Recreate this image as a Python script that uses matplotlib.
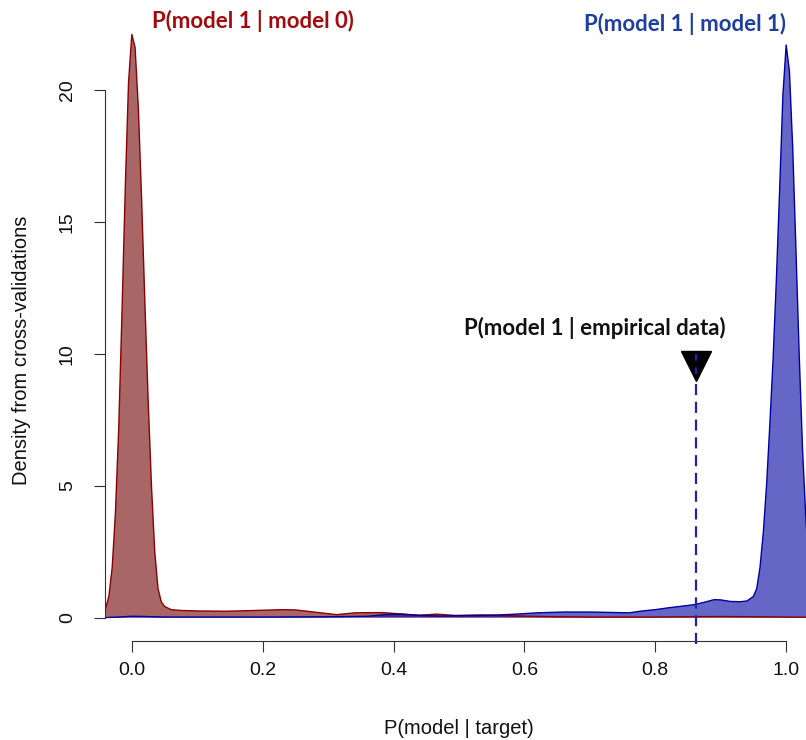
import numpy as np
import matplotlib
matplotlib.use("Agg")
import matplotlib.pyplot as plt

# density of P(model 1) when data simulated under model 0
red_x = [-0.041, -0.035, -0.03, -0.025, -0.02, -0.015, -0.01, -0.005, 0.0, 0.005,
         0.01, 0.015, 0.02, 0.025, 0.03, 0.035, 0.04, 0.045, 0.05, 0.06,
         0.075, 0.1, 0.145, 0.19, 0.23, 0.25, 0.285, 0.313, 0.341, 0.382,
         0.41, 0.439, 0.466, 0.494, 0.536, 0.564, 0.606, 0.65, 0.7, 0.8,
         0.9, 0.95, 1.0, 1.041]
red_y = [0.25, 0.82, 1.9, 4.0, 7.2, 11.6, 16.3, 20.3, 22.1, 21.6,
         19.3, 15.8, 11.9, 8.2, 5.0, 2.5, 1.1, 0.6, 0.42, 0.3,
         0.27, 0.25, 0.24, 0.27, 0.3, 0.29, 0.19, 0.11, 0.18, 0.19,
         0.14, 0.09, 0.13, 0.08, 0.1, 0.08, 0.05, 0.03, 0.02, 0.02,
         0.04, 0.03, 0.02, 0.01]

# density of P(model 1) when data simulated under model 1
blue_x = [-0.041, -0.02, 0.0, 0.02, 0.05, 0.1, 0.2, 0.3, 0.36, 0.39,
          0.41, 0.44, 0.47, 0.5, 0.54, 0.58, 0.62, 0.66, 0.7, 0.74,
          0.76, 0.78, 0.8, 0.82, 0.84, 0.86, 0.875, 0.89, 0.9, 0.915,
          0.93, 0.94, 0.95, 0.955, 0.96, 0.965, 0.97, 0.975, 0.98, 0.985,
          0.99, 0.995, 1.0, 1.005, 1.01, 1.015, 1.02, 1.025, 1.03, 1.035, 1.041]
blue_y = [0.0, 0.02, 0.05, 0.04, 0.02, 0.02, 0.02, 0.03, 0.05, 0.12,
          0.13, 0.08, 0.06, 0.07, 0.08, 0.12, 0.18, 0.21, 0.21, 0.19,
          0.18, 0.25, 0.3, 0.37, 0.43, 0.49, 0.58, 0.68, 0.67, 0.61,
          0.6, 0.63, 0.8, 1.1, 1.9, 3.2, 5.0, 7.3, 9.8, 12.8,
          16.2, 19.8, 21.7, 20.7, 17.8, 13.9, 9.9, 6.4, 3.8, 2.0, 0.9]

empirical_p = 0.862
empirical_y = 9.52

x_ticks = [0.0, 0.2, 0.4, 0.6, 0.8, 1.0]
y_ticks = [0, 5, 10, 15, 20]

fig = plt.figure(figsize=(8.06, 7.4), dpi=100)
ax = fig.add_axes([105 / 806, 99 / 740, 708 / 806, 632.7 / 740])

def closed(xs, ys):
    xs = np.asarray(xs)
    ys = np.asarray(ys)
    return np.r_[xs[0], xs, xs[-1]], np.r_[0, ys, 0]

rx, ry = closed(red_x, red_y)
bx, by = closed(blue_x, blue_y)
ax.fill(rx, ry, facecolor="#710000", alpha=0.6, edgecolor="none")
ax.plot(rx, ry, color="#8b0000", lw=1.0)
ax.fill(bx, by, facecolor="#0000a0", alpha=0.6, edgecolor="none")
ax.plot(bx, by, color="#0000a0", lw=1.0)

ax.plot([empirical_p, empirical_p], [-1, empirical_y], color="#2222aa",
        lw=1.6, linestyle=(0, (5, 3)), clip_on=False)
ax.plot([empirical_p], [empirical_y], marker="v", markersize=21, color="black",
        zorder=3)
ax.plot([empirical_p, empirical_p], [empirical_y - 0.3, empirical_y + 0.45],
        color="#2222aa", lw=1.6, linestyle=(0, (3, 3)), zorder=4)

bold = dict(family=["Lato", "DejaVu Sans"], fontweight="bold", fontsize=16,
            ha="center", va="center")
ax.text(0.185, 22.6, "P(model 1 | model 0)", color="#a00c0c", **bold)
ax.text(0.845, 22.5, "P(model 1 | model 1)", color="#1f3f9f", **bold)
ax.text(0.708, 10.96, "P(model 1 | empirical data)", color="#111111", **bold)

ax.set_xlim(-0.041, 1.041)
ax.set_ylim(-0.888, 23.09)
for s in ["top", "right"]:
    ax.spines[s].set_visible(False)
ax.spines["left"].set_bounds(0, 20)
ax.spines["bottom"].set_bounds(0, 1)
for s in ["left", "bottom"]:
    ax.spines[s].set_color("#333333")
    ax.spines[s].set_linewidth(0.8)

ax.set_xticks(x_ticks)
ax.set_xticklabels([f"{v:.1f}" for v in x_ticks])
ax.set_yticks(y_ticks)
ax.set_yticklabels([str(v) for v in y_ticks], rotation=90, va="center")
ax.tick_params(length=8, width=0.8, color="#333333", labelsize=14,
               labelcolor="#111111")
ax.tick_params(axis="x", pad=7)
ax.tick_params(axis="y", pad=13)
for lab in ax.get_xticklabels() + ax.get_yticklabels():
    lab.set_family("Liberation Sans")

ax.set_xlabel("P(model | target)", fontsize=14.5, family="Liberation Sans",
              color="#111111")
ax.set_ylabel("Density from cross-validations", fontsize=14.5,
              family="Liberation Sans", color="#111111")
ax.xaxis.set_label_coords(0.5, -0.123)
ax.yaxis.set_label_coords(-0.104, 0.46)

fig.savefig("out.png", dpi=100)
